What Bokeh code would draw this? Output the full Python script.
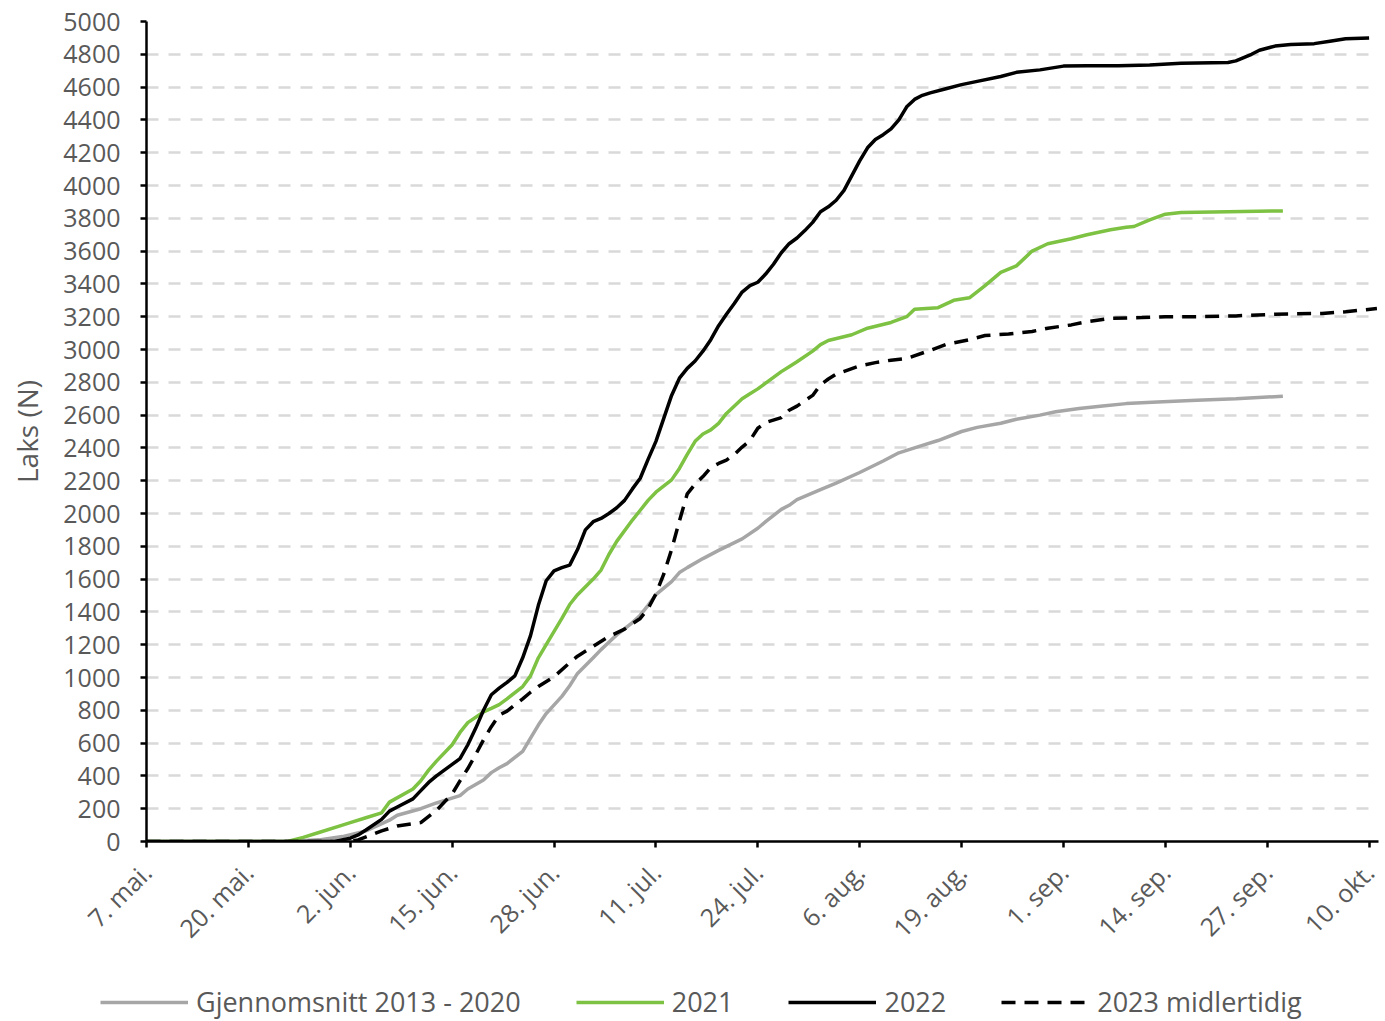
import math
from bokeh.plotting import figure
from bokeh.models import FixedTicker, Legend, LegendItem, Range1d
from bokeh.layouts import column, row
from bokeh.embed import file_html
from bokeh.resources import INLINE

# x = days after 7. mai
tick_days = [0, 13, 26, 39, 52, 65, 78, 91, 104, 117, 130, 143, 156]
tick_labels = ["7. mai.", "20. mai.", "2. jun.", "15. jun.", "28. jun.", "11. jul.",
               "24. jul.", "6. aug.", "19. aug.", "1. sep.", "14. sep.", "27. sep.", "10. okt."]

avg_days = [0, 18, 22, 25, 28, 31, 32, 35, 37, 40, 41, 43, 44, 45, 46, 48, 49, 50, 51, 53, 54, 55,
            57, 58, 59, 60, 62, 63, 64, 65, 67, 68, 69, 71, 73, 76, 78, 79, 81, 82, 83, 86, 88, 91,
            94, 96, 99, 101, 104, 106, 109, 111, 114, 116, 119, 122, 125, 129, 134, 139, 145]
avg_vals = [0, 0, 10, 30, 65, 130, 160, 200, 235, 280, 320, 375, 420, 450, 475, 550, 630, 710, 780,
            885, 950, 1025, 1120, 1170, 1215, 1260, 1335, 1380, 1440, 1505, 1585, 1640, 1670, 1725,
            1775, 1845, 1910, 1950, 2025, 2050, 2085, 2145, 2185, 2250, 2320, 2370, 2415, 2445, 2500,
            2525, 2550, 2575, 2600, 2620, 2640, 2655, 2670, 2680, 2690, 2700, 2715]

y2021_days = [0, 18, 20, 22, 25, 26, 28, 30, 31, 34, 35, 36, 37, 39, 40, 41, 43, 44, 45, 46, 48, 49,
              50, 51, 53, 54, 55, 57, 58, 59, 60, 62, 63, 64, 65, 67, 68, 69, 70, 71, 72, 73, 74, 76,
              77, 78, 79, 81, 82, 83, 85, 86, 87, 90, 92, 95, 97, 98, 101, 103, 105, 107, 109, 111,
              113, 115, 118, 120, 123, 125, 126, 128, 130, 132, 138, 145]
y2021_vals = [0, 0, 25, 55, 100, 115, 145, 175, 240, 320, 370, 435, 490, 590, 665, 725, 790, 812, 835,
              870, 945, 1010, 1120, 1200, 1360, 1445, 1505, 1600, 1655, 1750, 1830, 1960, 2020, 2080,
              2130, 2205, 2275, 2360, 2440, 2485, 2510, 2550, 2610, 2700, 2730, 2760, 2795, 2865, 2895,
              2925, 2990, 3030, 3055, 3090, 3130, 3165, 3200, 3245, 3255, 3300, 3315, 3390, 3470, 3510,
              3600, 3645, 3675, 3700, 3730, 3745, 3750, 3790, 3825, 3835, 3840, 3845]

y2022_days = [0, 24, 26, 27, 28, 30, 31, 32, 34, 35, 36, 37, 39, 40, 41, 42, 43, 44, 45, 46, 47, 48,
              49, 50, 51, 52, 53, 54, 55, 56, 57, 58, 59, 60, 61, 62, 63, 64, 65, 66, 67, 68, 69, 70,
              71, 72, 73, 74, 75, 76, 77, 78, 79, 80, 81, 82, 83, 84, 85, 86, 87, 88, 89, 90, 91, 92,
              93, 94, 95, 96, 97, 98, 99, 100, 102, 104, 106, 109, 111, 114, 117, 120, 124, 128, 132,
              138, 139, 141, 142, 144, 146, 149, 151, 153, 156]
y2022_vals = [0, 0, 20, 40, 70, 135, 185, 210, 260, 310, 360, 400, 470, 505, 590, 690, 800, 895, 935,
              970, 1010, 1120, 1255, 1440, 1590, 1650, 1670, 1685, 1780, 1900, 1950, 1970, 2000, 2035,
              2080, 2150, 2215, 2330, 2440, 2580, 2720, 2825, 2885, 2930, 2990, 3060, 3145, 3215, 3280,
              3350, 3390, 3410, 3460, 3520, 3590, 3645, 3680, 3725, 3775, 3840, 3870, 3910, 3970, 4060,
              4150, 4230, 4280, 4310, 4345, 4400, 4480, 4525, 4550, 4565, 4590, 4615, 4635, 4665, 4690,
              4705, 4728, 4730, 4730, 4735, 4745, 4750, 4760, 4800, 4825, 4850, 4860, 4865, 4880, 4895,
              4900]

y2023_days = [0, 26, 27, 30, 32, 35, 37, 39, 40, 41, 42, 43, 44, 45, 46, 48, 49, 50, 52, 54, 55, 57,
              59, 61, 63, 64, 65, 66, 67, 68, 69, 70, 71, 72, 73, 74, 75, 76, 77, 78, 79, 81, 82, 83,
              85, 86, 87, 88, 91, 93, 95, 97, 100, 102, 105, 107, 110, 113, 115, 118, 120, 123, 127,
              130, 134, 139, 144, 150, 153, 157]
y2023_vals = [0, 0, 10, 65, 95, 115, 190, 290, 370, 445, 530, 620, 700, 770, 795, 870, 910, 945, 1005,
              1090, 1130, 1190, 1250, 1295, 1360, 1420, 1510, 1630, 1780, 1955, 2120, 2180, 2225, 2280,
              2305, 2325, 2360, 2405, 2445, 2520, 2555, 2585, 2630, 2655, 2720, 2785, 2820, 2850, 2900,
              2920, 2935, 2945, 2995, 3030, 3060, 3085, 3095, 3110, 3130, 3150, 3170, 3190, 3195, 3200,
              3200, 3205, 3215, 3220, 3230, 3250]

series_labels = ["Gjennomsnitt 2013 - 2020", "2021", "2022", "2023 midlertidig"]
y_ticks = list(range(0, 5001, 200))

TXT = "#595959"
FONT = "Open Sans"
STYLES = [dict(line_color="#A6A6A6", line_width=3.5),
          dict(line_color="#7DC242", line_width=3.5),
          dict(line_color="black", line_width=3.5),
          dict(line_color="black", line_width=3.5, line_dash="14 9")]
SERIES = [(avg_days, avg_vals), (y2021_days, y2021_vals), (y2022_days, y2022_vals),
          (y2023_days, y2023_vals)]

p = figure(width=1383, height=960, output_backend="svg", toolbar_location=None,
           x_range=Range1d(0, 157.2), y_range=Range1d(0, 5000),
           min_border_left=146, min_border_right=5, min_border_top=21, min_border_bottom=119)
p.outline_line_color = None
p.xgrid.grid_line_color = None
p.ygrid.ticker = FixedTicker(ticks=y_ticks)
p.ygrid.grid_line_color = "#D9D9D9"
p.ygrid.grid_line_width = 2.5
p.ygrid.grid_line_dash = "12 10"

p.yaxis.ticker = FixedTicker(ticks=y_ticks)
p.xaxis.ticker = FixedTicker(ticks=tick_days)
p.xaxis.major_label_overrides = {d: l for d, l in zip(tick_days, tick_labels)}
p.xaxis.major_label_orientation = math.pi / 4
for ax in (p.xaxis, p.yaxis):
    ax.axis_line_color = "black"
    ax.axis_line_width = 2.5
    ax.major_tick_line_color = "black"
    ax.major_tick_line_width = 2.5
    ax.major_tick_in = 0
    ax.major_tick_out = 6
    ax.minor_tick_line_color = None
    ax.major_label_text_color = TXT
    ax.major_label_text_font = FONT
    ax.major_label_text_font_size = "25px"
p.yaxis.major_label_standoff = 20
p.xaxis.major_label_standoff = 20
p.yaxis.axis_label = "Laks (N)"
p.yaxis.axis_label_text_font = FONT
p.yaxis.axis_label_text_font_size = "28px"
p.yaxis.axis_label_text_font_style = "normal"
p.yaxis.axis_label_text_color = TXT
p.yaxis.axis_label_standoff = 14

for (xs, ys), st in zip(SERIES, STYLES):
    p.line(xs, ys, **st)

# separate strip for the legend (same series, drawn outside the visible range)
q = figure(width=1383, height=60, output_backend="svg", toolbar_location=None,
           x_range=Range1d(0, 157.2), y_range=Range1d(-20, -10),
           x_axis_location=None, y_axis_location=None,
           min_border_left=0, min_border_right=0, min_border_top=0, min_border_bottom=0)
q.outline_line_color = None
q.grid.grid_line_color = None
items = []
for (xs, ys), st, lab in zip(SERIES, STYLES, series_labels):
    r = q.line(xs, ys, **st)
    items.append(LegendItem(label=lab, renderers=[r]))
legend = Legend(items=items, orientation="horizontal", location=(100, 0))
legend.glyph_width = 88
legend.glyph_height = 26
legend.label_standoff = 8
legend.spacing = 55
legend.padding = 0
legend.margin = 0
legend.border_line_color = None
legend.background_fill_alpha = 0
legend.label_text_font = FONT
legend.label_text_font_size = "27px"
legend.label_text_color = TXT
q.add_layout(legend)

layout = column(p, row(q), spacing=0)
open("out.html", "w").write(file_html(layout, INLINE))
